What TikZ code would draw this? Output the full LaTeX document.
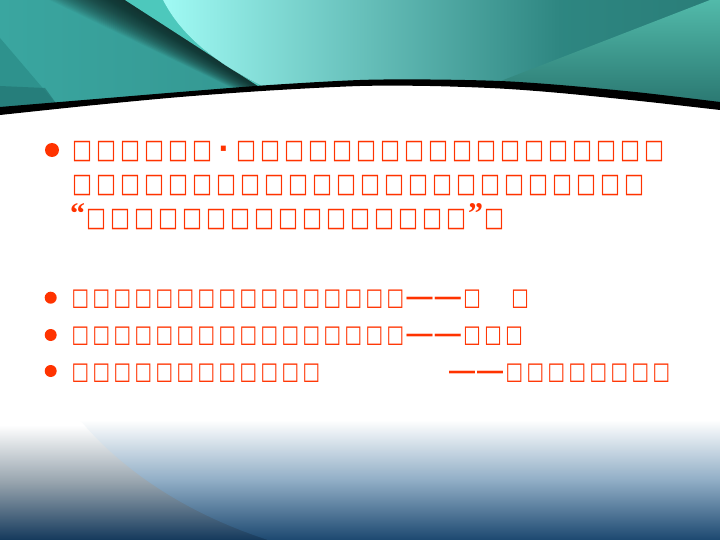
\documentclass[tikz,border=0pt]{standalone}
\usepackage{fontspec}
\usepackage{graphicx}
\newfontfamily\tofufont{DejaVu Sans}
\newfontfamily\quotefont{Liberation Serif}
\newfontfamily\dashfont{Liberation Sans}
\definecolor{txt}{RGB}{255,51,0}
\definecolor{tealbase}{RGB}{58,166,160}
\definecolor{tealR}{RGB}{42,125,120}
\definecolor{tealMid}{RGB}{46,134,129}
\definecolor{brightL}{RGB}{160,250,244}
\definecolor{medstrip}{RGB}{77,200,188}
\definecolor{darkSh}{RGB}{18,40,38}
\definecolor{leftdark}{RGB}{46,146,141}
\definecolor{leftdeep}{RGB}{36,118,116}
\definecolor{wedgeT}{RGB}{82,186,170}
\definecolor{wedgeB}{RGB}{40,116,110}
\definecolor{bgrayM}{RGB}{150,163,173}
\definecolor{bnavyL}{RGB}{20,57,92}
\definecolor{bblueM}{RGB}{145,174,198}
\definecolor{bblueL}{RGB}{28,72,112}
\newcommand\TA{\makebox[24bp][l]{\resizebox*{20bp}{20.5bp}{\tofufont □}}}
\newcommand\TB{\makebox[21bp][l]{\resizebox*{17.5bp}{18.5bp}{\tofufont □}}}
\newcommand\MDOT{\makebox[20bp][l]{\hspace{2bp}\fontsize{28bp}{28bp}\selectfont\tofufont\bfseries ·}}
\newcommand\LQ{\makebox[14bp][l]{\hspace{-2bp}\raisebox{3bp}{\fontsize{30bp}{30bp}\selectfont\quotefont\bfseries “}}}
\newcommand\RQ{\makebox[14bp][l]{\hspace{-2bp}\raisebox{3bp}{\fontsize{30bp}{30bp}\selectfont\quotefont\bfseries ”}}}
\newcommand\DASH{\makebox[55.75bp][l]{\hspace{-0.8bp}\fontsize{26bp}{26bp}\selectfont\dashfont\bfseries\makebox[28.2bp][l]{—}\makebox[28bp][l]{—}}}
\tikzset{
  tx/.style={inner sep=0pt, outer sep=0pt, text=txt, anchor=base west},
  bul/.style={fill=txt}
}
\begin{document}
\begin{tikzpicture}[x=1bp,y=-1bp]
\useasboundingbox (0,0) rectangle (720,540);
\fill[white] (0,0) rectangle (720,540);
% ---- bottom gradient
\shade[top color=white, bottom color=bnavyL, middle color=bgrayM] (0,425) rectangle (720,540);
\shade[top color=white, bottom color=bblueL, middle color=bblueM]
  (80,420) .. controls (112,458) and (170,508) .. (268,540) -- (720,540) -- (720,420) -- cycle;
% ---- header
\begin{scope}
\clip (0,0) rectangle (720,116);
\shade[left color=tealbase, right color=tealR] (0,0) rectangle (720,116);
% dark shadow: stacked translucent layers, thick at the top, thin at the bottom
\foreach \d in {1.2,2.4,...,45}{
  \fill[darkSh, opacity=0.05]
    (40.3,-53.5) -- (269,91) -- ({269-0.16*\d},{91+0.254*\d}) -- ({40.3-0.535*\d},{-53.5+0.847*\d}) -- cycle;
}
% left facets
\fill[leftdark] (0,38) -- (58,106) -- (0,112) -- cycle;
\fill[leftdeep, opacity=0.7] (0,86) -- (45,88) -- (58,106) -- (0,112) -- cycle;
% medium strip
\fill[medstrip] (125,0) -- (163,0) .. controls (176,25) and (200,55) .. (262,86) -- (258,86) -- cycle;
% bright region
\shade[left color=brightL, right color=tealMid]
  (163,0) .. controls (176,25) and (200,55) .. (262,86) -- (560,86) -- (560,0) -- cycle;
% right wedge
\shade[top color=wedgeT, bottom color=wedgeB] (710,0) -- (720,0) -- (720,110) -- (493,84) -- cycle;
\end{scope}
% white under band
\fill[white] plot[smooth] coordinates {(0,113)(90,103.5)(180,95)(270,88.5)(360,84)(430,84)(500,86.5)(560,91)(640,99)(720,108)} -- (720,140) -- (0,140) -- cycle;
% black band
\fill[black] plot[smooth] coordinates {(0,107)(90,99.5)(180,92)(270,85)(360,80)(430,79.5)(500,81)(560,85)(640,92.5)(720,102)}
  -- plot[smooth] coordinates {(720,110)(640,101)(560,93)(500,88.5)(430,86)(360,86)(270,90.5)(180,97)(90,105.5)(0,115)} -- cycle;
% ---- bullets
\fill[bul] (52,150) circle (7);
\fill[bul] (50.7,297.7) circle (6);
\fill[bul] (50.7,335) circle (6);
\fill[bul] (50.7,371) circle (6);
% ---- text lines
\node[tx] (l1) at (72,158.5) {\TA\TA\TA\TA\TA\TA\MDOT\TA\TA\TA\TA\TA\TA\TA\TA\TA\TA\TA\TA\TA\TA\TA\TA\TA\TA};
\node[tx] (l2) at (72,192.5) {\TA\TA\TA\TA\TA\TA\TA\TA\TA\TA\TA\TA\TA\TA\TA\TA\TA\TA\TA\TA\TA\TA\TA\TA};
\node[tx] (l3) at (72,226.5) {\LQ\TA\TA\TA\TA\TA\TA\TA\TA\TA\TA\TA\TA\TA\TA\TA\TA\RQ\TA};
\node[tx] (l4) at (71.5,305.5) {\TB\TB\TB\TB\TB\TB\TB\TB\TB\TB\TB\TB\TB\TB\TB\TB\DASH\TB\hspace{27bp}\TB};
\node[tx] (l5) at (71.5,342.5) {\TB\TB\TB\TB\TB\TB\TB\TB\TB\TB\TB\TB\TB\TB\TB\TB\DASH\TB\TB\TB};
\node[tx] (l6) at (71.5,379.5) {\TB\TB\TB\TB\TB\TB\TB\TB\TB\TB\TB\TB\hspace{126.3bp}\DASH\TB\TB\TB\TB\TB\TB\TB\TB};
\end{tikzpicture}
\end{document}
